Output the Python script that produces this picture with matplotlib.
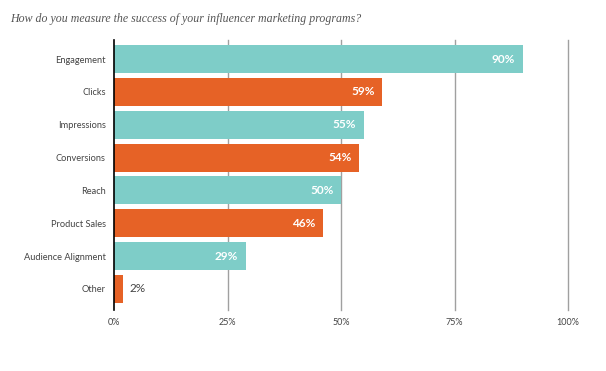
import numpy as np
import matplotlib.pyplot as plt

# Survey results
categories = ['Engagement', 'Clicks', 'Impressions', 'Conversions', 'Reach',
              'Product Sales', 'Audience Alignment', 'Other']
values = [90, 59, 55, 54, 50, 46, 29, 2]
tick_vals = [0, 25, 50, 75, 100]
tick_labels = ['0%', '25%', '50%', '75%', '100%']

teal = '#7ecdc8'
orange = '#e66226'
colors = [teal if i % 2 == 0 else orange for i in range(len(values))]

fig = plt.figure(figsize=(6.06, 3.71), dpi=100)
ax = fig.add_axes([114 / 606, 1 - 310 / 371, (568 - 114) / 606, 270 / 371])

y = np.arange(len(categories))
ax.barh(y, values, height=0.85, color=colors, zorder=2)

# labels on the bars
for yi, v in zip(y, values):
    if v > 10:
        ax.text(v - 1.6, yi, f'{v}%', ha='right', va='center', color='white',
                fontsize=8.5, fontweight='bold', family='Lato', zorder=3)
    else:
        ax.text(v + 1.5, yi, f'{v}%', ha='left', va='center', color='#444444',
                fontsize=8.5, family='Lato', zorder=3)

ax.set_xlim(0, 100)
ax.set_ylim(7.64, -0.58)
ax.set_xticks(tick_vals)
ax.set_xticklabels(tick_labels, fontsize=6.5, color='#444444', family='Lato')
ax.set_yticks(y)
ax.set_yticklabels(categories, fontsize=6.7, color='#444444', family='Lato')
ax.tick_params(axis='both', length=0, pad=6)

for t in tick_vals[1:]:
    ax.axvline(t, color='#a0a0a0', linewidth=1, zorder=1, clip_on=False)
for s in ['top', 'right', 'bottom']:
    ax.spines[s].set_visible(False)
ax.spines['left'].set_color('black')
ax.spines['left'].set_linewidth(1.2)
ax.spines['left'].set_zorder(4)

fig.text(10 / 606, 1 - 19 / 371,
         'How do you measure the success of your influencer marketing programs?',
         fontsize=8.6, style='italic', family='Liberation Serif', color='#555555',
         va='center', ha='left')

fig.savefig('out.png', dpi=100, facecolor='white')
